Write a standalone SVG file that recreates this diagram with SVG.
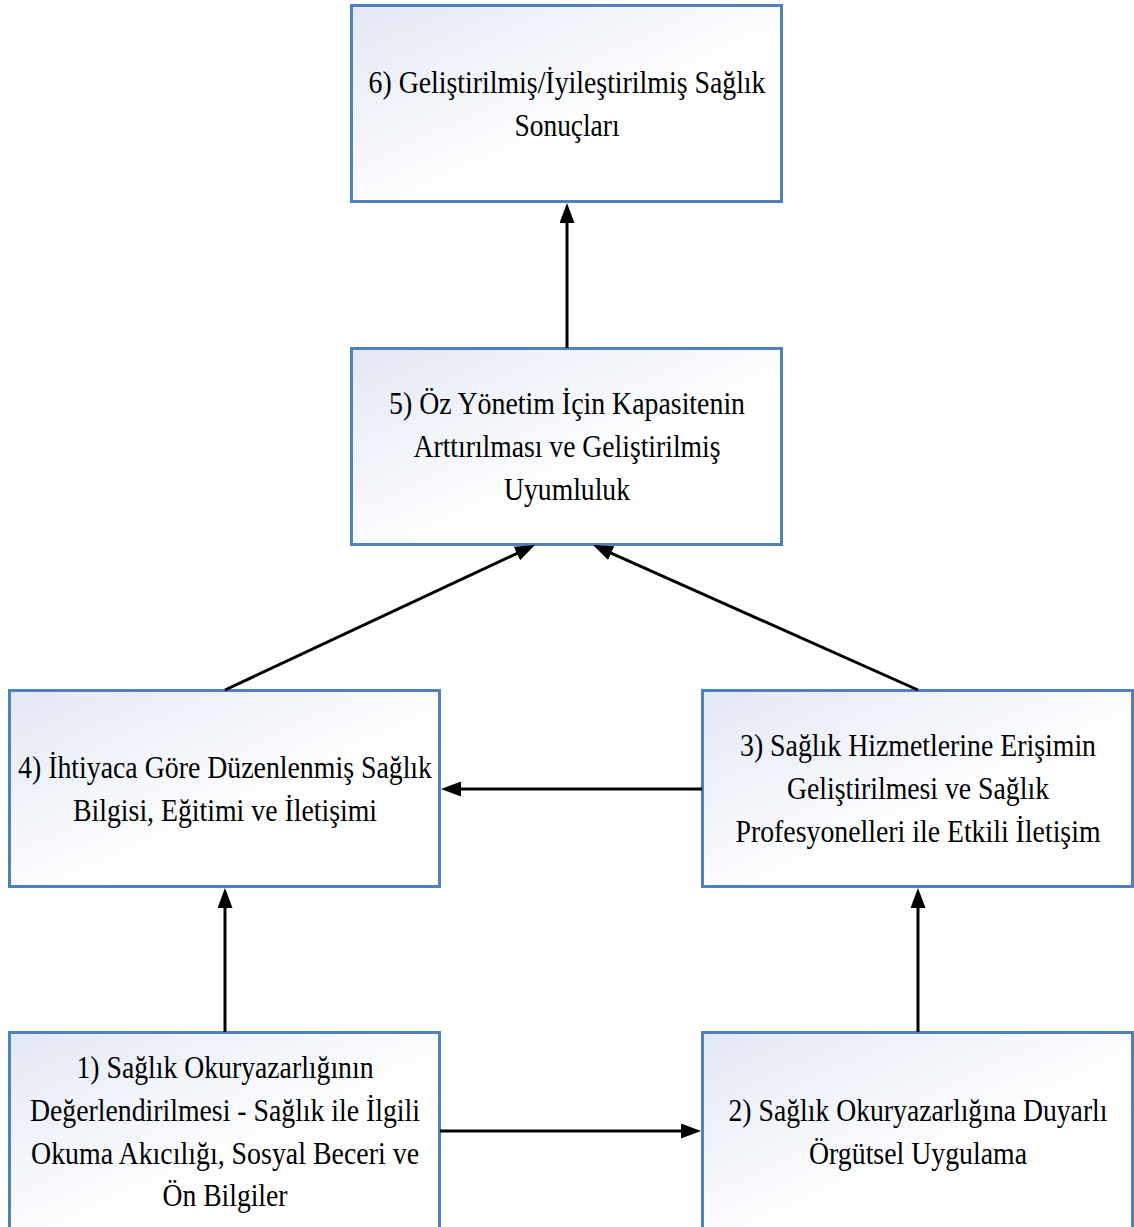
<svg xmlns="http://www.w3.org/2000/svg" width="1134" height="1227" viewBox="0 0 1134 1227">
<style>
.box{stroke:#4F81BD;stroke-width:3;fill:url(#g)}
.t{font-family:"Liberation Serif","Times New Roman",serif;font-size:32px;fill:#000;text-anchor:middle}
.c{stroke:#000;stroke-width:3;fill:none;marker-end:url(#ah)}
</style>
<defs>
<linearGradient id="g" x1="0" y1="0" x2="1" y2="1">
<stop offset="0" stop-color="#E2E8F4"/>
<stop offset="0.6" stop-color="#FFFFFF"/>
<stop offset="1" stop-color="#FFFFFF"/>
</linearGradient>
<marker id="ah" viewBox="0 0 20 15" refX="2" refY="7.5" markerWidth="20" markerHeight="15" markerUnits="userSpaceOnUse" orient="auto">
<path d="M0,0 L20,7.5 L0,15 z" fill="#000"/>
</marker>
</defs>
<rect width="1134" height="1227" fill="#fff"/>
<g id="node6">
<rect class="box" x="351.5" y="5.5" width="430" height="196"/>
<g transform="translate(567,0) scale(0.86,1)">
<text class="t" x="0" y="93" textLength="461.6" lengthAdjust="spacingAndGlyphs">6) Geliştirilmiş/İyileştirilmiş Sağlık</text>
<text class="t" x="0" y="136" textLength="122.1" lengthAdjust="spacingAndGlyphs">Sonuçları</text>
</g>
</g>
<g id="node5">
<rect class="box" x="351.5" y="348.5" width="430" height="196"/>
<g transform="translate(567,0) scale(0.86,1)">
<text class="t" x="0" y="414" textLength="414" lengthAdjust="spacingAndGlyphs">5) Öz Yönetim İçin Kapasitenin</text>
<text class="t" x="0" y="457" textLength="357" lengthAdjust="spacingAndGlyphs">Arttırılması ve Geliştirilmiş</text>
<text class="t" x="0" y="500" textLength="146.5" lengthAdjust="spacingAndGlyphs">Uyumluluk</text>
</g>
</g>
<g id="node4">
<rect class="box" x="9.5" y="690.5" width="430" height="196"/>
<g transform="translate(225,0) scale(0.86,1)">
<text class="t" x="0" y="778" textLength="481.4" lengthAdjust="spacingAndGlyphs">4) İhtiyaca Göre Düzenlenmiş Sağlık</text>
<text class="t" x="0" y="821" textLength="353.5" lengthAdjust="spacingAndGlyphs">Bilgisi, Eğitimi ve İletişimi</text>
</g>
</g>
<g id="node3">
<rect class="box" x="702.5" y="690.5" width="430" height="196"/>
<g transform="translate(918,0) scale(0.86,1)">
<text class="t" x="0" y="756" textLength="414" lengthAdjust="spacingAndGlyphs">3) Sağlık Hizmetlerine Erişimin</text>
<text class="t" x="0" y="799" textLength="304.7" lengthAdjust="spacingAndGlyphs">Geliştirilmesi ve Sağlık</text>
<text class="t" x="0" y="842" textLength="424.4" lengthAdjust="spacingAndGlyphs">Profesyonelleri ile Etkili İletişim</text>
</g>
</g>
<g id="node1">
<rect class="box" x="9.5" y="1032.5" width="430" height="196"/>
<g transform="translate(225,0) scale(0.86,1)">
<text class="t" x="0" y="1078" textLength="345.3" lengthAdjust="spacingAndGlyphs">1) Sağlık Okuryazarlığının</text>
<text class="t" x="0" y="1121" textLength="453.5" lengthAdjust="spacingAndGlyphs">Değerlendirilmesi - Sağlık ile İlgili</text>
<text class="t" x="0" y="1164" textLength="451.2" lengthAdjust="spacingAndGlyphs">Okuma Akıcılığı, Sosyal Beceri ve</text>
<text class="t" x="0" y="1206" textLength="145.3" lengthAdjust="spacingAndGlyphs">Ön Bilgiler</text>
</g>
</g>
<g id="node2">
<rect class="box" x="702.5" y="1032.5" width="430" height="196"/>
<g transform="translate(918,0) scale(0.86,1)">
<text class="t" x="0" y="1121" textLength="440.7" lengthAdjust="spacingAndGlyphs">2) Sağlık Okuryazarlığına Duyarlı</text>
<text class="t" x="0" y="1164" textLength="253.5" lengthAdjust="spacingAndGlyphs">Örgütsel Uygulama</text>
</g>
</g>
<g id="connectors">
<line class="c" x1="567" y1="348" x2="567" y2="221"/>
<line class="c" x1="225" y1="690" x2="518.7" y2="552.6"/>
<line class="c" x1="918" y1="690" x2="609.4" y2="552.3"/>
<line class="c" x1="702" y1="789" x2="459" y2="789"/>
<line class="c" x1="225" y1="1032" x2="225" y2="906"/>
<line class="c" x1="918" y1="1032" x2="918" y2="906"/>
<line class="c" x1="440" y1="1131" x2="683" y2="1131"/>
</g>
</svg>
